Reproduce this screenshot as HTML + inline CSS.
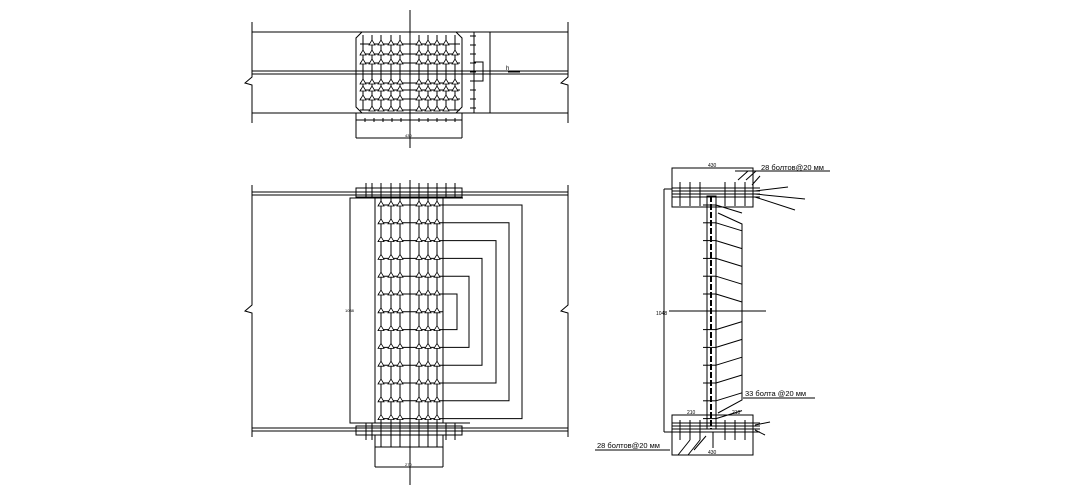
<!DOCTYPE html>
<html><head><meta charset="utf-8"><style>
html,body{margin:0;padding:0;background:#fff;width:1070px;height:494px;overflow:hidden}
svg{display:block}
text{font-family:"Liberation Sans","DejaVu Sans",sans-serif;fill:#000}
</style></head><body>
<svg id="s" width="1070" height="494" viewBox="0 0 1070 494" xmlns="http://www.w3.org/2000/svg" stroke="#000" stroke-width="1" fill="none">
<!-- TOP VIEW -->
<line x1="410" y1="10" x2="410" y2="148"/>
<line x1="252" y1="32" x2="568" y2="32"/>
<line x1="252" y1="71" x2="568" y2="71"/>
<line x1="252" y1="74" x2="568" y2="74"/>
<line x1="252" y1="113" x2="568" y2="113"/>
<polyline points="252,22 252,77 245,83 252,85 252,123"/>
<polyline points="568,22 568,77 561,83 568,85 568,123"/>
<polygon points="362,32 456,32 462,38 462,107 456,113 362,113 356,107 356,38"/>
<line x1="474" y1="32" x2="474" y2="113"/>
<line x1="474" y1="32" x2="490" y2="32"/><line x1="474" y1="113" x2="490" y2="113"/>
<line x1="490" y1="32" x2="490" y2="113"/>
<polyline points="474,62 483,62 483,81 474,81"/>
<line x1="508" y1="72" x2="520" y2="72"/>
<text x="506" y="70" font-size="6" stroke="none">h</text>
<line x1="356" y1="120" x2="462" y2="120"/>
<line x1="356" y1="113" x2="356" y2="138"/><line x1="462" y1="113" x2="462" y2="138"/>
<line x1="356" y1="138" x2="462" y2="138"/>
<text x="405" y="137" font-size="4" stroke="none">430</text>
<!-- BOTTOM LEFT VIEW -->
<line x1="410" y1="180" x2="410" y2="485"/>
<line x1="252" y1="192" x2="568" y2="192"/>
<line x1="252" y1="195" x2="568" y2="195"/>
<line x1="252" y1="428" x2="568" y2="428"/>
<line x1="252" y1="431" x2="568" y2="431"/>
<polyline points="252,185 252,305 245,311 252,313 252,437"/>
<polyline points="568,185 568,305 561,311 568,313 568,437"/>
<rect x="356" y="188" width="106" height="9"/>
<rect x="356" y="426" width="106" height="9"/>
<rect x="350" y="198" width="93" height="225"/>
<line x1="375" y1="198" x2="375" y2="423"/>
<line x1="375" y1="435" x2="375" y2="447"/><line x1="443" y1="435" x2="443" y2="447"/>
<line x1="375" y1="447" x2="443" y2="447"/>
<line x1="375" y1="447" x2="375" y2="467"/><line x1="443" y1="447" x2="443" y2="467"/>
<line x1="375" y1="467" x2="443" y2="467"/>
<text x="405" y="466" font-size="4" stroke="none">270</text>
<text x="345" y="312" font-size="4" stroke="none">1088</text>
<!-- RIGHT VIEW -->
<rect x="672" y="168" width="81" height="39"/>
<line x1="672" y1="188" x2="760" y2="188"/>
<line x1="672" y1="191" x2="760" y2="191"/>
<line x1="672" y1="194" x2="760" y2="194"/>
<line x1="672" y1="197" x2="760" y2="197"/>
<rect x="707" y="196" width="9" height="233"/>
<line x1="711" y1="196" x2="711" y2="429" stroke-width="2" stroke-dasharray="6,2"/>
<line x1="664" y1="189" x2="664" y2="432"/>
<line x1="664" y1="189" x2="672" y2="189"/><line x1="664" y1="432" x2="672" y2="432"/>
<text x="656" y="315" font-size="5" stroke="none">1048</text>
<line x1="669" y1="311" x2="766" y2="311"/>
<polyline points="718,213 742,224 742,400 718,413"/>
<rect x="672" y="415" width="81" height="40"/>
<line x1="672" y1="423" x2="760" y2="423"/>
<line x1="672" y1="426" x2="760" y2="426"/>
<line x1="672" y1="429" x2="760" y2="429"/>
<line x1="672" y1="432" x2="760" y2="432"/>
<line x1="713" y1="432" x2="713" y2="448"/>
<text x="708" y="167" font-size="5" stroke="none">430</text>
<text x="708" y="454" font-size="5" stroke="none">430</text>
<text x="687" y="414" font-size="5" stroke="none">210</text>
<text x="732" y="414" font-size="5" stroke="none">210</text>
<line x1="735" y1="171" x2="830" y2="171"/>
<text x="761" y="170" font-size="7.5" stroke="none">28 болтов@20 мм</text>
<line x1="743" y1="398" x2="815" y2="398"/>
<text x="745" y="396" font-size="7.5" stroke="none">33 болта @20 мм</text>
<line x1="595" y1="450" x2="670" y2="450"/>
<text x="597" y="448" font-size="7.5" stroke="none">28 болтов@20 мм</text>
<g id="g"></g>
</svg>
<script>
var g=document.getElementById('g'),h='';
function L(a,b,c,d){h+='<line x1="'+a+'" y1="'+b+'" x2="'+c+'" y2="'+d+'"/>';}
function T(x,y){h+='<polygon stroke-width="0.8" fill="#fff" points="'+(x-3)+','+(y+2)+' '+x+','+(y-3)+' '+(x+3)+','+(y+2)+'"/>';}
var tc=[363,372,381,391,400,419,428,437,446,455],tr=[43,53,62,82,89,98,109];
tc.forEach(function(x){L(x,35,x,110);});
tr.forEach(function(y,i){L(360,y+1,460,y+1);tc.forEach(function(x,j){if((i==0||i==6)&&(j==0||j==9))return;T(x,y);});});
for(var x=356;x<=462;x+=9)L(x,118,x,122);
for(var y=36;y<=110;y+=9)L(470,y,476,y);
var bc=[381,391,400,419,428,437];
[366,372,381,391,400,419,428,437,446,455].forEach(function(x){L(x,183,x,198);L(x,423,x,440);});
bc.forEach(function(x){L(x,198,x,423);L(x,440,x,447);});
var r=[];for(var i=0;i<13;i++)r.push(204+i*17.8);
r.forEach(function(y){L(378,y+1,443,y+1);bc.forEach(function(x){T(x,y);});});
var bx=[522,509,496,482,469,457];
for(var k=0;k<6;k++){var y1=r[k]+1,y2=r[12-k]+1;h+='<polyline points="443,'+y1+' '+bx[k]+','+y1+' '+bx[k]+','+y2+' 443,'+y2+'"/>';}
L(443,198,463,198);L(443,423,470,423);
[680,690,700,725,735,745].forEach(function(x){L(x,182,x,206);L(x,420,x,440);});
for(var i=0;i<13;i++){var y=205+i*17.8;if(i==6)continue;L(703,y,716,y);L(716,y,742,y+(i<6?8:-8));}
[[738,180,748,171],[746,180,756,171],[752,185,760,176],[678,455,690,440],[688,455,700,440],[694,450,706,436]].forEach(function(a){L(a[0],a[1],a[2],a[3]);});
L(755,191,788,187);L(755,194,805,199);L(755,197,795,210);
L(755,425,770,422);L(755,430,765,435);
g.innerHTML=h;
</script>
</body></html>
